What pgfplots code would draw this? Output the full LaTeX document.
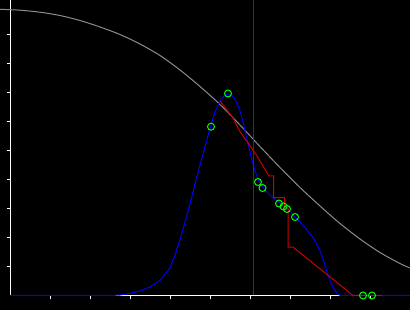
\documentclass[border=0pt]{standalone}
\usepackage{pgfplots}
\pgfplotsset{compat=1.18}

\definecolor{curvegray}{RGB}{140,140,140}
\definecolor{dblue}{RGB}{0,0,255}
\definecolor{sred}{RGB}{204,0,0}
\definecolor{mgreen}{RGB}{0,255,0}
\definecolor{vpurple}{RGB}{128,0,128}

\begin{document}
\begin{tikzpicture}
% black page, 410 x 310 (1pt = 1px), axis origin at (0,0)
\fill[black] (-10.5pt,-14.5pt) rectangle (399.5pt,295.5pt);
\begin{axis}[
    scale only axis,
    width=399.5pt, height=295.5pt,
    xmin=0, xmax=9.9875,
    ymin=0, ymax=10.19,
    axis lines*=left,
    axis line style={white, line width=1pt},
    tick style={white, line width=1pt},
    major tick length=4pt,
    tick align=outside,
    xtick={1,...,9}, ytick={1,...,9},
    xticklabels={}, yticklabels={},
    clip=false,
    every axis plot/.append style={line width=1pt},
  ]
% survival-type curve
\addplot[curvegray, smooth] coordinates {
  (-0.2625,9.869) (0.2375,9.838) (0.7375,9.769) (1.2375,9.655) (1.7375,9.483)
  (2.2375,9.259) (2.7375,9.000) (3.2375,8.672) (3.7375,8.276) (4.2375,7.776)
  (4.7375,7.207) (5.2375,6.586) (5.7375,5.879) (6.2375,5.138) (6.7375,4.414)
  (7.2375,3.724) (7.7375,3.086) (8.2375,2.483) (8.7375,1.948) (9.2375,1.483)
  (9.7375,1.103) (9.9875,0.948)};
% density curve
\addplot[dblue] coordinates {
  (0,0) (2.5125,0) (2.7375,0.017) (2.9875,0.069) (3.2375,0.155) (3.4875,0.293)
  (3.7375,0.517) (3.9875,0.948) (4.1125,1.397) (4.2375,1.914) (4.3625,2.534)
  (4.4875,3.155) (4.6125,3.845) (4.7375,4.500) (4.8625,5.121) (4.9875,5.776)
  (5.1125,6.328) (5.2375,6.707) (5.3375,6.879) (5.4375,6.966) (5.5375,6.897)
  (5.6375,6.707) (5.7375,6.362) (5.8125,5.983) (5.8875,5.534) (5.9875,4.948)
  (6.0625,4.534) (6.1375,4.190) (6.2375,3.879) (6.3625,3.638) (6.5625,3.362)
  (6.8125,3.121) (6.9875,2.914) (7.1125,2.707) (7.2375,2.534) (7.3625,2.345)
  (7.4875,2.138) (7.6125,1.879) (7.7375,1.534) (7.8375,1.155) (7.9375,0.707)
  (8.0375,0.345) (8.1375,0.121) (8.2375,0) (9.9875,0)};
% step curve
\addplot[sred] coordinates {
  (5.2375,6.707) (5.5625,6.121) (5.7375,5.655) (5.9375,5.259) (6.1125,4.914)
  (6.3125,4.466) (6.4625,4.121) (6.575,4.121) (6.575,3.379) (6.85,3.379)
  (6.85,3.017) (6.9375,3.017) (6.9375,1.672) (7.0625,1.672) (8.5625,0)
  (9.2875,0)};
% vertical marker line
\addplot[vpurple] coordinates {(6.075,0) (6.075,10.19)};
% observations
\addplot[only marks, mark=o, mark size=3.5pt, mark options={mgreen, line width=1pt}] coordinates {
  (5.0125,5.821) (5.4375,6.966) (6.1875,3.914) (6.3,3.707) (6.7125,3.172)
  (6.825,3.069) (6.9125,2.983) (7.1125,2.707) (8.8125,0) (9.0375,0)};
\end{axis}
\pgfresetboundingbox
\path[use as bounding box] (-10.5pt,-14.5pt) rectangle (399.5pt,295.5pt);
\end{tikzpicture}
\end{document}
